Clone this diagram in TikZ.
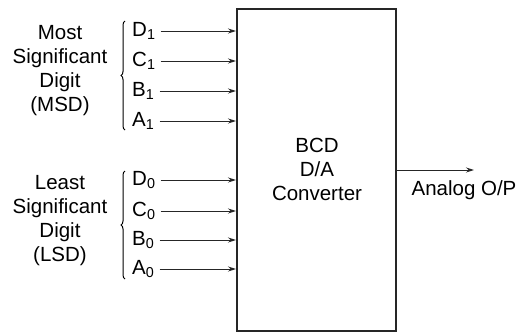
\documentclass[tikz,border=0pt]{standalone}
\usepackage{fontspec}
\setmainfont{Liberation Sans}
\usetikzlibrary{arrows.meta,decorations.pathreplacing}
\begin{document}
\begin{tikzpicture}[x=1pt,y=-1pt,
  lbl/.style={font=\fontsize{20.5}{24}\selectfont, align=center, inner sep=0pt},
  inp/.style={font=\fontsize{20.5}{22}\selectfont, inner sep=2pt, anchor=west},
  arr/.style={-{Stealth[length=8pt,width=5pt]}, line width=0.9pt, draw=black!85},
  brace/.style={decorate, decoration={brace, amplitude=4pt}, line width=1pt}]
\useasboundingbox (0,0) rectangle (521,332);
\node[draw, line width=2pt, draw=black!85, minimum width=159pt, minimum height=322pt, anchor=north west] (conv) at (236,8) {};
\node[lbl] (title) at (317,169) {BCD\\D/A\\Converter};
\foreach \n/\a/\b/\y in {d1/D/1/31, c1/C/1/61, b1/B/1/91, a1/A/1/121, d0/D/0/180, c0/C/0/211, b0/B/0/240, a0/A/0/269}{
  \node[inp] (\n) at (130,\y) {\a\textsubscript{\b}};
  \coordinate (\n t) at (conv.west |- \n);
  \draw[arr] ([xshift=3pt]\n.east) -- (\n t);
}
\node[lbl] (msd) at (60,71) {Most\\Significant\\Digit\\(MSD)};
\node[lbl] (lsd) at (60,221) {Least\\Significant\\Digit\\(LSD)};
\draw[brace] (125,130) -- (125,21);
\draw[brace] (125,279) -- (125,171);
\coordinate (out) at (474,170);
\draw[arr] (conv.east |- out) -- (out);
\node[lbl] (aop) at (464,190) {Analog O/P};
\end{tikzpicture}
\end{document}
